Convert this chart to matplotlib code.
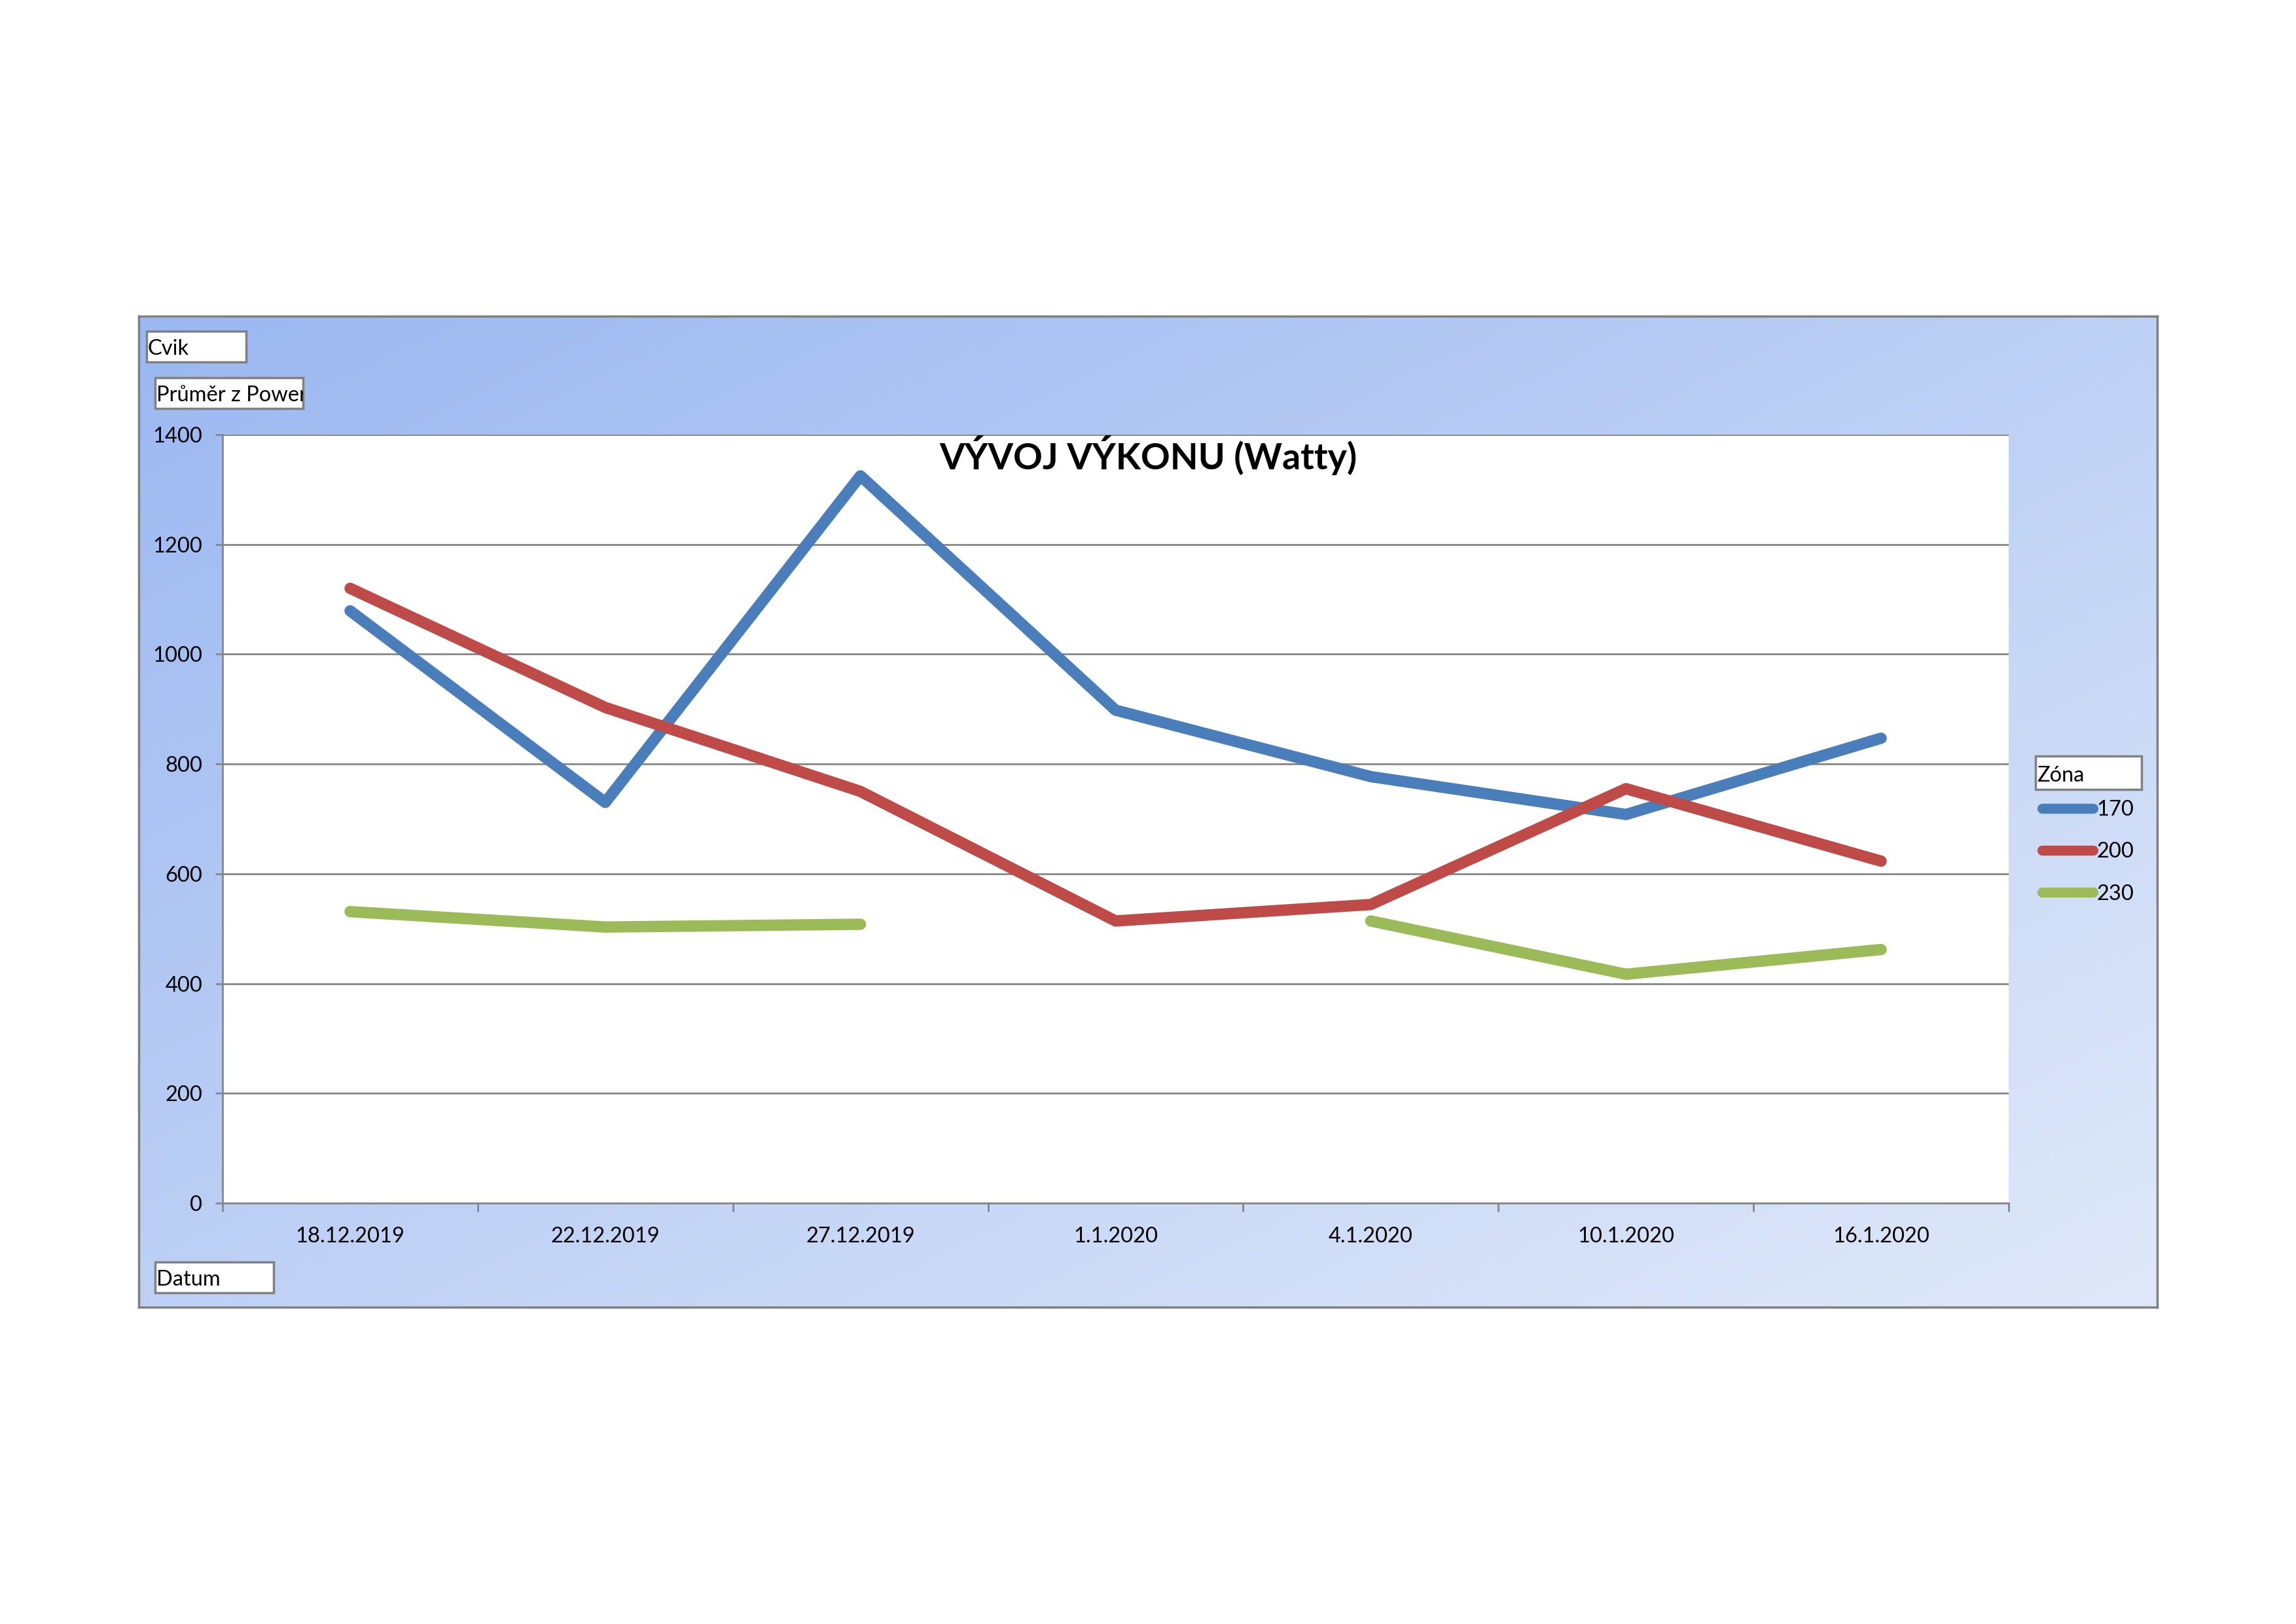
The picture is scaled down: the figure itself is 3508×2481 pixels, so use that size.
import matplotlib.pyplot as plt
import numpy as np
from matplotlib.patches import Rectangle

plt.rcParams["font.family"] = ["Lato", "DejaVu Sans"]

# data
dates = ["18.12.2019", "22.12.2019", "27.12.2019", "1.1.2020", "4.1.2020", "10.1.2020", "16.1.2020"]
zona_170 = [1079, 730, 1325, 898, 777, 708, 847]
zona_200 = [1120, 903, 750, 514, 544, 755, 623]
zona_230 = [531, 503, 508, np.nan, 514, 417, 462]
series_names = ["170", "200", "230"]
series_colors = ["#4a7ebb", "#be4b48", "#9bbb59"]
y_ticks = list(range(0, 1401, 200))

W, H = 3508, 2481
fig = plt.figure(figsize=(W / 100, H / 100), dpi=100)


def fx(px):
    return px / W


def fy(py):
    return 1 - py / H


def label_box(x0, y0, x1, y1, text):
    rect = Rectangle((fx(x0), fy(y1)), fx(x1 - x0), (y1 - y0) / H, transform=fig.transFigure,
                     facecolor="white", edgecolor="#808080", lw=2.5, zorder=5)
    fig.add_artist(rect)
    t = fig.text(fx(x0 + 2), fy((y0 + y1) / 2 + 4), text, ha="left", va="center",
                 fontsize=23.5, color="black", zorder=6)
    t.set_clip_path(rect)


# gradient chart background
bg = fig.add_axes([fx(212), fy(1997), fx(3296 - 212), (1997 - 483) / H])
u = np.linspace(0, 1, 400)
v = np.linspace(0, 1, 300)
t = 0.5 * (u[None, :] + v[:, None])
c0 = np.array([155, 184, 241]) / 255
c1 = np.array([224, 233, 249]) / 255
bg.imshow(c0 + (c1 - c0) * t[..., None], aspect="auto", extent=[0, 1, 0, 1], origin="upper")
bg.set_xticks([])
bg.set_yticks([])
for s in bg.spines.values():
    s.set_color("#7f7f7f")
    s.set_linewidth(2.5)

ax = fig.add_axes([fx(340), fy(1838), fx(3069 - 340), (1838 - 664) / H])
ax.set_facecolor("white")

x = np.arange(len(dates))
for values, name, color in zip([zona_170, zona_200, zona_230], series_names, series_colors):
    ax.plot(x, values, color=color, lw=12.5, label=name,
            solid_capstyle="round", solid_joinstyle="round")

ax.set_xlim(-0.5, len(dates) - 0.5)
ax.set_ylim(0, 1400)
ax.set_yticks(y_ticks)
ax.yaxis.grid(True, color="#868686", lw=2)
ax.set_axisbelow(True)
ax.tick_params(axis="y", length=8, width=2, color="#868686", pad=14, labelsize=23.5)
ax.set_xticks(x)
ax.set_xticklabels(dates)
ax.tick_params(axis="x", which="major", length=0, pad=26, labelsize=23.5)
ax.set_xticks(np.arange(-0.5, len(dates), 1), minor=True)
ax.tick_params(axis="x", which="minor", length=9, width=2, color="#868686", direction="out")
for side in ["top", "right"]:
    ax.spines[side].set_visible(False)
for side in ["left", "bottom"]:
    ax.spines[side].set_color("#868686")
    ax.spines[side].set_linewidth(2)

fig.text(fx(1754), fy(696), "VÝVOJ VÝKONU (Watty)", ha="center", va="center",
         fontsize=40, fontweight="bold", color="black")

leg = ax.legend(loc="upper left", bbox_to_anchor=(fx(3120), fy(1222)), bbox_transform=fig.transFigure,
                frameon=False, fontsize=23.5, handlelength=2.4, handletextpad=0.15,
                labelspacing=1.05, borderpad=0, borderaxespad=0)
for line in leg.get_lines():
    line.set_linewidth(11)

label_box(224, 506, 376, 553, "Cvik")
label_box(237, 577, 463, 624, "Průměr z Power")
label_box(237, 1928, 418, 1975, "Datum")
label_box(3110, 1155, 3272, 1206, "Zóna")

fig.savefig("out.png", dpi=100)
